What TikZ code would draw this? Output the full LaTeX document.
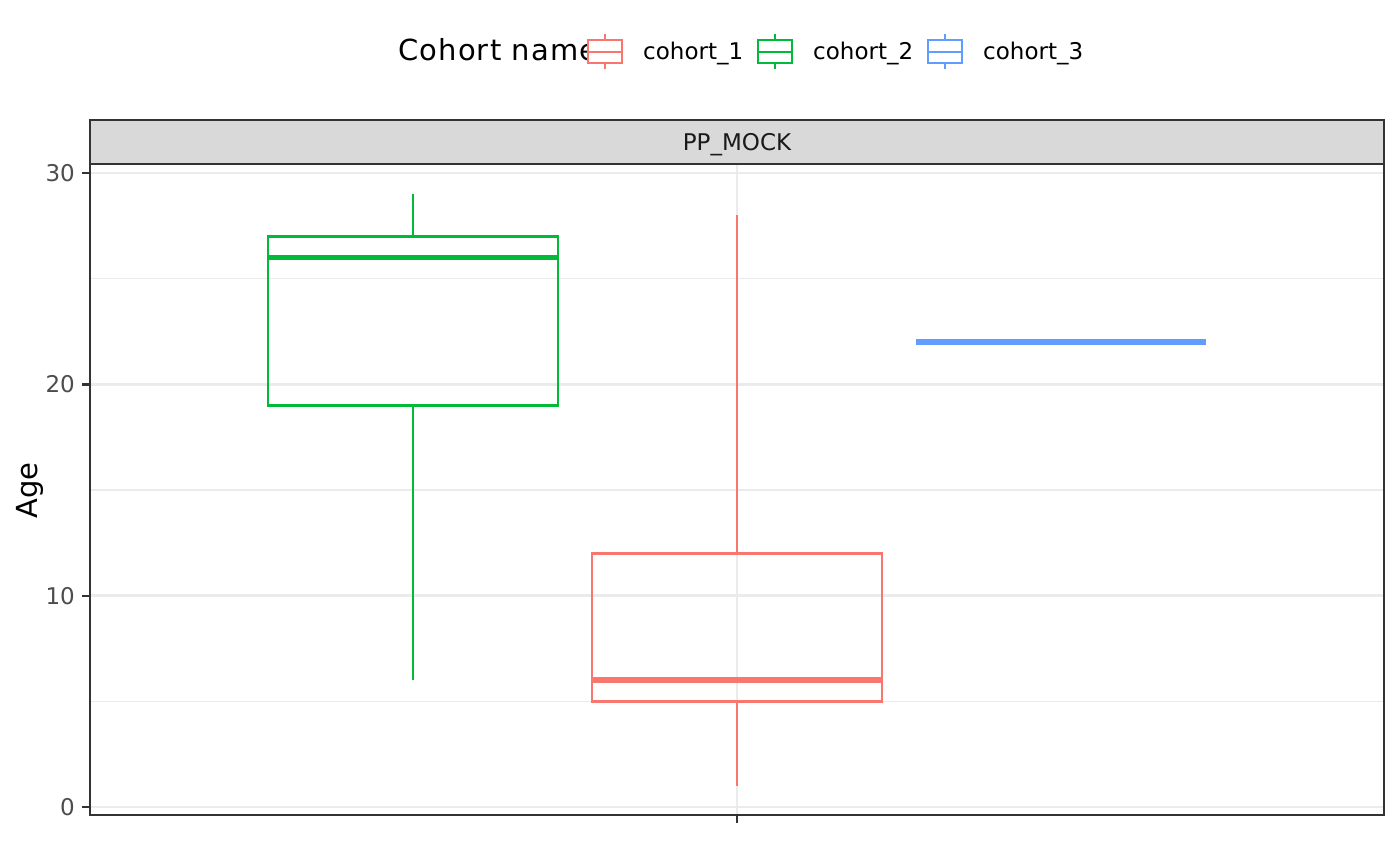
\documentclass[tikz,border=0pt]{standalone}
\usepackage{fontspec}
\setmainfont{DejaVu Sans}
\newfontfamily\titlefont[LetterSpace=4]{DejaVu Sans}
\definecolor{cred}{HTML}{F8766D}
\definecolor{cgreen}{HTML}{00BA38}
\definecolor{cblue}{HTML}{619CFF}
\definecolor{gridc}{HTML}{EBEBEB}
\definecolor{bordc}{HTML}{333333}
\definecolor{stripc}{HTML}{D9D9D9}
\definecolor{tickc}{HTML}{4D4D4D}
\definecolor{stript}{HTML}{1A1A1A}
\pgfmathdeclarefunction{Y}{1}{\pgfmathparse{807-21.13*#1}}
\tikzset{
  minorgrid/.style={draw=gridc, line width=1.3pt},
  majorgrid/.style={draw=gridc, line width=2.6pt},
  boxline/.style={line width=2.8pt},
  medline/.style={line width=5.5pt},
  ticklabel/.style={anchor=base east, inner sep=0pt, text=tickc, font=\fontsize{23}{23}\selectfont},
  legtext/.style={anchor=base west, inner sep=0pt, font=\fontsize{23}{23}\selectfont},
  tickmark/.style={draw=bordc, line width=2.4pt},
  legkey/.style={line width=2.8pt},
}
\begin{document}
\begin{tikzpicture}[x=1pt,y=-1pt]
\useasboundingbox (0,0) rectangle (1400,866);
\fill[white] (0,0) rectangle (1400,866);

% grid
\foreach \v in {5,15,25} \draw[minorgrid] (90,{Y(\v)}) -- (1384,{Y(\v)});
\foreach \v in {0,10,20,30} \draw[majorgrid] (90,{Y(\v)}) -- (1384,{Y(\v)});
\draw[majorgrid] (737,164) -- (737,815);

% cohort_2 (green)
\begin{scope}[draw=cgreen]
\draw[boxline] (413,{Y(29)}) -- (413,{Y(27)});
\draw[boxline] (413,{Y(19)}) -- (413,{Y(6)});
\draw[boxline] (268,{Y(27)}) rectangle (558,{Y(19)});
\draw[medline] (268,{Y(26)}) -- (558,{Y(26)});
\end{scope}

% cohort_1 (red)
\begin{scope}[draw=cred]
\draw[boxline] (737,{Y(28)}) -- (737,{Y(12)});
\draw[boxline] (737,{Y(5)}) -- (737,{Y(1)});
\draw[boxline] (592,{Y(12)}) rectangle (882,{Y(5)});
\draw[medline] (592,{Y(6)}) -- (882,{Y(6)});
\end{scope}

% cohort_3 (blue)
\draw[draw=cblue, line width=5.8pt] (916,{Y(22)}) -- (1206,{Y(22)});

% panel border and strip
\draw[draw=bordc, line width=1.6pt] (90,164) rectangle (1384,815);
\draw[draw=bordc, fill=stripc, line width=1.6pt] (90,120) rectangle (1384,164);
\node[anchor=base, inner sep=0pt, text=stript, font=\fontsize{23}{23}\selectfont] (strip) at (737,151) {PP\_MOCK};

% axes ticks and labels
\foreach \v in {0,10,20,30} {
  \draw[tickmark] (82,{Y(\v)}) -- (90,{Y(\v)});
  \node[ticklabel] (yl\v) at (75,{Y(\v)+8.4}) {\v};
}
\draw[tickmark] (737,815) -- (737,823);
\node[anchor=base, rotate=90, inner sep=0pt, font=\fontsize{29}{29}\selectfont] (ylab) at (37,490.5) {Age};

% legend
\node[anchor=base west, inner sep=0pt, font=\titlefont\fontsize{29}{29}\selectfont] (legtitle) at (398,61) {Cohort name};
\foreach \i/\c/\t in {0/cred/cohort\_1, 1/cgreen/cohort\_2, 2/cblue/cohort\_3} {
  \pgfmathsetmacro{\cx}{605+170*\i}
  \fill[white] (\cx-18,30) rectangle (\cx+18,74);
  \draw[draw=\c, legkey] (\cx-17,40) rectangle (\cx+17,63);
  \draw[draw=\c, legkey] (\cx-17,52) -- (\cx+17,52);
  \draw[draw=\c, legkey] (\cx,34) -- (\cx,40);
  \draw[draw=\c, legkey] (\cx,63) -- (\cx,69);
  \node[legtext] (leg\i) at (\cx+38,60) {\t};
}
\end{tikzpicture}
\end{document}
